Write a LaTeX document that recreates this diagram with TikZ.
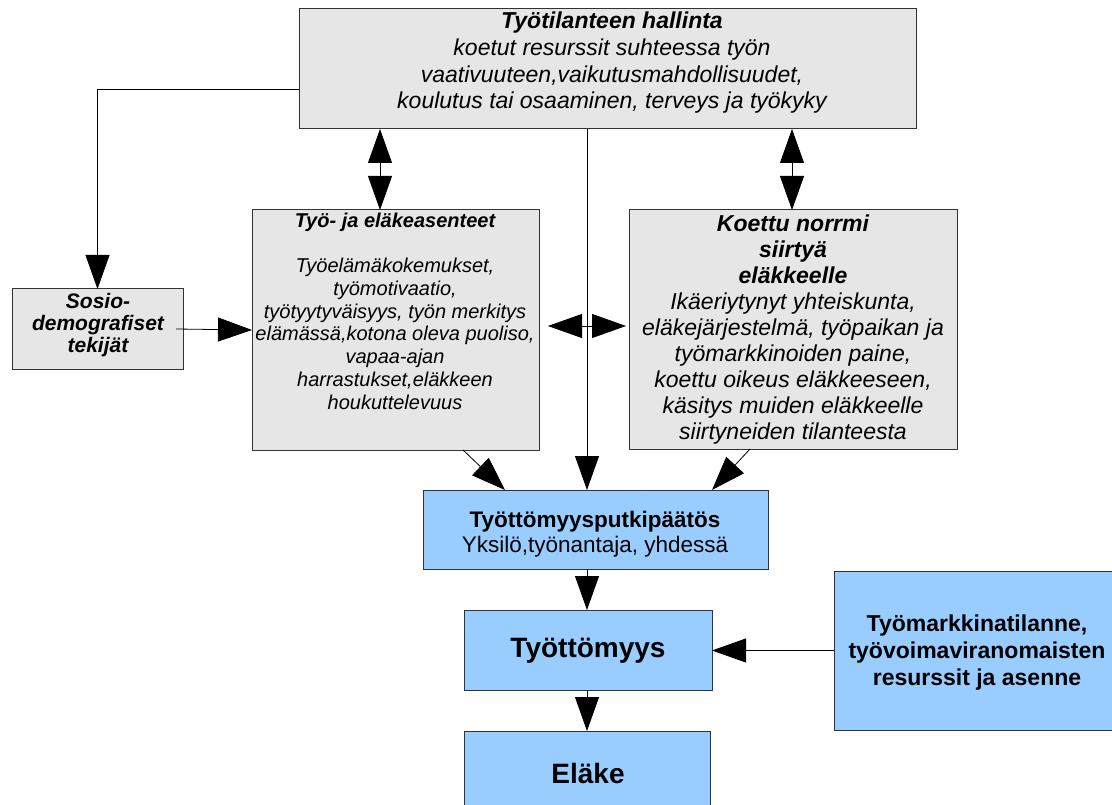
\documentclass[tikz,border=0pt]{standalone}
\usepackage{fontspec}
\setmainfont{Liberation Sans}
\usetikzlibrary{arrows.meta}
\definecolor{boxgray}{HTML}{E6E6E6}
\definecolor{boxblue}{HTML}{99CCFF}
\tikzset{
  box/.style={draw=black!80, line width=1pt, inner sep=0pt, outer sep=0pt, anchor=north west},
  graybox/.style={box, fill=boxgray},
  bluebox/.style={box, fill=boxblue},
  txt/.style={align=center, inner sep=0pt},
  conn/.style={draw=black, line width=0.8pt},
  arr/.style={conn, -{Triangle[length=34pt,width=24pt]}},
  dbl/.style={conn, {Triangle[length=34pt,width=24pt]}-{Triangle[length=34pt,width=24pt]}},
}
\begin{document}
\begin{tikzpicture}[x=1pt,y=-1pt]
\useasboundingbox (0,0) rectangle (1112,805);
\clip (0,0) rectangle (1112,805);
% boxes
\node[graybox, minimum width=617pt, minimum height=120pt] (top) at (299,9) {};
\node[graybox, minimum width=287pt, minimum height=240pt] (tyo) at (252,210) {};
\node[graybox, minimum width=328pt, minimum height=239pt] (koettu) at (629,210) {};
\node[graybox, minimum width=171pt, minimum height=80pt] (sosio) at (12,289) {};
\node[bluebox, minimum width=345pt, minimum height=79pt] (putki) at (423,490) {};
\node[bluebox, minimum width=248pt, minimum height=80pt] (tyott) at (464,610) {};
\node[bluebox, minimum width=246pt, minimum height=90pt] (elake) at (464,731) {};
\node[bluebox, minimum width=290pt, minimum height=159pt] (tmark) at (834,571) {};
% texts
\node[txt, font=\fontsize{23}{26.7}\selectfont\itshape] (toptxt) at (612,63)
  {\textbf{Työtilanteen hallinta}\\koetut resurssit suhteessa työn\\vaativuuteen,vaikutusmahdollisuudet,\\koulutus tai osaaminen, terveys ja työkyky};
\node[txt, font=\fontsize{20}{22.75}\selectfont\itshape] (tyotxt) at (395,311)
  {\textbf{Työ- ja eläkeasenteet}\\[22.75pt]Työelämäkokemukset,\\työmotivaatio,\\työtyytyväisyys, työn merkitys\\elämässä,kotona oleva puoliso,\\vapaa-ajan\\harrastukset,eläkkeen\\houkuttelevuus};
\node[txt, font=\fontsize{23}{25.9}\selectfont\itshape] (koettutxt) at (793,329.5)
  {\textbf{Koettu norrmi}\\\textbf{siirtyä}\\\textbf{eläkkeelle}\\Ikäeriytynyt yhteiskunta,\\eläkejärjestelmä, työpaikan ja\\työmarkkinoiden paine,\\koettu oikeus eläkkeeseen,\\käsitys muiden eläkkeelle\\siirtyneiden tilanteesta};
\node[txt, font=\fontsize{21}{22}\selectfont\bfseries\itshape] (sosiotxt) at (98,325)
  {Sosio-\\demografiset\\tekijät};
\node[txt, font=\fontsize{22.5}{25}\selectfont] (putkitxt) at (595,534)
  {\textbf{Työttömyysputkipäätös}\\Yksilö,työnantaja, yhdessä};
\node[txt, font=\fontsize{28}{30}\selectfont\bfseries] (tyotttxt) at (588,651) {Työttömyys};
\node[txt, font=\fontsize{28}{30}\selectfont\bfseries] (elaketxt) at (588,773) {Eläke};
\node[txt, font=\fontsize{23}{27}\selectfont\bfseries] (tmarktxt) at (977,653)
  {Työmarkkinatilanne,\\työvoimaviranomaisten\\resurssit ja asenne};
% connectors
\draw[arr] ([yshift=40pt]top.south west) -| (sosio.north);
\draw[arr] ([xshift=-7pt]sosio.east) -- (tyo.west);
\draw[dbl] ([xshift=-15.5pt]tyo.north) -- ([xshift=-15.5pt]tyo.north |- top.south);
\draw[dbl] ([xshift=-1pt]koettu.north) -- ([xshift=-1pt]koettu.north |- top.south);
\draw[dbl] ([xshift=9pt,yshift=4pt]tyo.east) -- ([xshift=-3pt,yshift=4pt]tyo.east -| koettu.west);
\draw[arr] ([xshift=-20.5pt]top.south) -- ([xshift=-20.5pt]top.south |- putki.north);
\draw[arr] ([xshift=67.5pt]tyo.south) -- ([xshift=-90.5pt]putki.north);
\draw[arr] ([xshift=-43pt]koettu.south) -- ([xshift=116.5pt]putki.north);
\draw[arr] ([xshift=-8.5pt]putki.south) -- ([xshift=-8.5pt]putki.south |- tyott.north);
\draw[arr] ([xshift=-1pt]tyott.south) -- ([xshift=-1pt]tyott.south |- elake.north);
\draw[arr] (tmark.west) -- (tmark.west -| tyott.east);
\end{tikzpicture}
\end{document}
